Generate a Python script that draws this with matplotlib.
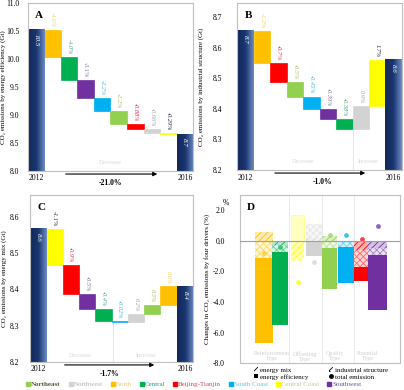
import numpy as np
import matplotlib
matplotlib.use('Agg')
import matplotlib.pyplot as plt
from matplotlib.colors import LinearSegmentedColormap, to_rgb
from matplotlib.lines import Line2D
from matplotlib.patches import Patch

plt.rcParams['font.family'] = ['Liberation Serif', 'DejaVu Serif']
plt.rcParams['hatch.linewidth'] = 0.6

# ---- data ----
regions = ['Northeast', 'Northwest', 'North', 'Central', 'Beijing-Tianjin',
           'South Coast', 'Central Coast', 'Southwest']

# panel A: energy efficiency (Gt)
a_start = 10.52
a_regions = ['North', 'Central', 'Southwest', 'South Coast', 'Northeast',
             'Beijing-Tianjin', 'Northwest', 'Central Coast']
a_delta = [-0.48, -0.415, -0.325, -0.23, -0.23, -0.085, -0.075, -0.025]
a_labels = ['-4.6%', '-4.0%', '-3.1%', '-2.2%', '-2.2%', '-0.88%', '-0.66%', '-0.29%']
a_ends = ['10.5', '8.7']
a_total = '-21.0%'

# panel B: industrial structure (Gt)
b_start = 8.655
b_regions = ['North', 'Beijing-Tianjin', 'Northeast', 'South Coast', 'Southwest',
             'Central', 'Northwest', 'Central Coast']
b_delta = [-0.105, -0.063, -0.047, -0.04, -0.034, -0.032, 0.076, 0.15]
b_labels = ['-1.2%', '-0.7%', '-0.5%', '-0.45%', '-0.39%', '-0.38%', '0.9%', '1.7%']
b_ends = ['8.7', '8.6']
b_total = '-1.0%'

# panel C: energy mix (Gt)
c_start = 8.567
c_regions = ['Central Coast', 'Beijing-Tianjin', 'Southwest', 'Central', 'South Coast',
             'Northwest', 'Northeast', 'North']
c_delta = [-0.099, -0.082, -0.041, -0.033, -0.002, 0.022, 0.025, 0.051]
c_labels = ['-1.1%', '-0.9%', '-0.5%', '-0.4%', '-0.02%', '0.2%', '0.3%', '0.6%']
c_ends = ['8.6', '8.4']
c_total = '-1.7%'

# panel D: four drivers (%)
d_regions = ['North', 'Central', 'Central Coast', 'Northwest', 'Northeast',
             'South Coast', 'Beijing-Tianjin', 'Southwest']
d_mix = [0.6, -0.26, -1.1, 0.2, 0.3, 0.0, -0.6, -0.5]
d_struct = [-1.1, -0.44, -0.2, 0.9, -0.5, -0.4, -1.1, -0.4]
d_eff = [-5.6, -4.8, 1.7, -1.0, -2.65, -2.35, -0.9, -3.6]
d_dot = [-0.8, -0.4, -2.7, -1.4, 0.4, 0.4, 0.1, 1.0]
d_types = ['Reinforcement\nType', 'Offsetting\nType', 'Quality\nType', 'Potential\nType']

# ---- styles ----
reg_color = {'Northeast': '#92D050', 'Northwest': '#D3D3D3', 'North': '#FFC000',
             'Central': '#00B050', 'Beijing-Tianjin': '#FF0000', 'South Coast': '#00B0F0',
             'Central Coast': '#FFFF00', 'Southwest': '#7030A0'}
lab_color = {'Northeast': '#A8C060', 'Northwest': '#A0A0A0', 'North': '#F0D060',
             'Central': '#50A080', 'Beijing-Tianjin': '#E03050', 'South Coast': '#40B8E0',
             'Central Coast': '#202040', 'Southwest': '#8070A0'}
leg_text = {'Northeast': '#4F5A30', 'Northwest': '#B0B0B0', 'North': '#E8C870',
            'Central': '#20A080', 'Beijing-Tianjin': '#E04060', 'South Coast': '#60C0E0',
            'Central Coast': '#C8C890', 'Southwest': '#6050A0'}
navy = LinearSegmentedColormap.from_list('navy', ['#13285A', '#1A3670', '#6C8CC4'])
frame = '#BFBFBF'


def pale(c, f):
    r = np.array(to_rgb(c))
    return tuple(1 - (1 - r) * f)


def navy_bar(ax, x, val, ymin, lab):
    grad = np.linspace(0, 1, 60).reshape(1, -1)
    ax.imshow(grad, extent=[x - 0.5, x + 0.5, ymin, val], cmap=navy,
              aspect='auto', zorder=2, interpolation='bilinear')
    ax.annotate(lab, (x, val), xytext=(0, -3), textcoords='offset points',
                rotation=270, ha='center', va='top', color='white',
                fontsize=5, style='italic', zorder=4)


def waterfall(ax, start, deltas, regs, labels, ends, total, ylim, ticks,
              arrow, total_x, ylab, letter, label_x, tpad):
    levels = start + np.cumsum(deltas)
    prev = np.concatenate([[start], levels[:-1]])
    x = np.arange(1, len(deltas) + 1)
    cols = [reg_color[r] for r in regs]
    ax.bar(x, np.abs(deltas), bottom=np.minimum(prev, levels), width=1.0,
           color=cols, edgecolor=cols, lw=0.5, zorder=2)
    for xi, t, lab, r in zip(x, np.maximum(prev, levels), labels, regs):
        ax.annotate(lab, (xi, t), xytext=(0, 2), textcoords='offset points',
                    rotation=270, ha='center', va='bottom', fontsize=4.5,
                    style='italic', color=lab_color[r])
    navy_bar(ax, 0, start, ylim[0], ends[0])
    navy_bar(ax, len(deltas) + 1, levels[-1], ylim[0], ends[1])
    ax.set_xlim(-0.5, len(deltas) + 1.5)
    ax.set_ylim(*ylim)
    ax.set_yticks(ticks, ['%.1f' % t for t in ticks])
    ax.set_xticks([0, len(deltas) + 1], ['2012', '2016'])
    ax.tick_params(axis='x', length=0, pad=2.5, labelsize=5.5)
    ax.tick_params(axis='y', length=0, labelsize=5.5, pad=tpad)
    for s in ax.spines.values():
        s.set_color(frame)
        s.set_linewidth(0.8)
    tr = ax.get_xaxis_transform()
    ax.annotate('', xy=(arrow[1], -0.018), xytext=(arrow[0], -0.018), xycoords=tr,
                arrowprops=dict(arrowstyle='-|>', color='black', lw=0.8,
                                mutation_scale=6), annotation_clip=False)
    ax.text(total_x, -0.07, total, transform=tr, ha='center', va='center',
            fontsize=5.5, fontweight='bold')
    ax.set_ylabel(ylab, fontsize=5)
    ax.yaxis.set_label_coords(label_x, 0.5)
    ax.text(0.045, 0.95, letter, transform=ax.transAxes, fontsize=8,
            fontweight='bold', ha='left', va='top')


def note(ax, x, y, s):
    ax.text(x, y, s, transform=ax.get_xaxis_transform(), ha='center',
            va='center', fontsize=4.5, color='#D8D8D8')


fig = plt.figure(figsize=(4.04, 3.90), dpi=100)

# A
ax_a = fig.add_axes([0.069, 0.5615, 0.409, 0.431])
waterfall(ax_a, a_start, a_delta, a_regions, a_labels, a_ends, a_total, (8.0, 11.0),
          np.arange(8.0, 11.01, 0.5), (1.62, 7.5), 4.47,
          'CO₂ emissions by energy efficiency (Gt)', 'A', -0.13, 6)
note(ax_a, 4.5, 0.05, 'Decrease')

# B
ax_b = fig.add_axes([0.587, 0.564, 0.408, 0.428])
waterfall(ax_b, b_start, b_delta, b_regions, b_labels, b_ends, b_total, (8.2, 8.745),
          np.arange(8.2, 8.71, 0.1), (1.62, 7.44), 4.65,
          'CO₂ emissions by industrial structure (Gt)', 'B', -0.2, 11)
ax_b.vlines(6.5, 8.2, 8.334, color='#E0E0E0', lw=0.6, zorder=1)
note(ax_b, 3.5, 0.05, 'Decrease')
note(ax_b, 7.45, 0.05, 'Increase')

# C
ax_c = fig.add_axes([0.074, 0.072, 0.404, 0.428])
waterfall(ax_c, c_start, c_delta, c_regions, c_labels, c_ends, c_total, (8.2, 8.66),
          np.arange(8.2, 8.61, 0.1), (1.46, 7.29), 4.4,
          'CO₂ emissions by energy mix (Gt)', 'C', -0.14, 8)
ax_c.vlines(4.6, 8.2, 8.31, color='#E0E0E0', lw=0.6, zorder=1)
note(ax_c, 2.6, 0.04, 'Decrease')
note(ax_c, 6.6, 0.04, 'Increase')

# D
ax_d = fig.add_axes([0.594, 0.069, 0.396, 0.431])
d_pos = [1.5, 2.5, 3.6, 4.6, 5.6, 6.6, 7.6, 8.6]
d_wid = [1.1, 1.0, 0.8, 1.0, 0.9, 1.0, 0.9, 1.2]
for xi, w, r, m, s, e, dt in zip(d_pos, d_wid, d_regions, d_mix, d_struct, d_eff, d_dot):
    c = reg_color[r]
    pos, neg = 0.0, 0.0
    for v, kind in ((m, 'mix'), (s, 'struct'), (e, 'eff')):
        if v == 0:
            continue
        base = pos if v > 0 else neg
        if kind == 'mix':
            ax_d.bar(xi, v, w, bottom=base, facecolor=pale(c, 0.3), edgecolor=c,
                     hatch='/////', lw=0, zorder=2)
        elif kind == 'struct':
            ax_d.bar(xi, v, w, bottom=base, facecolor=pale(c, 0.15), edgecolor=pale(c, 0.6),
                     hatch='xxxxx', lw=0, zorder=2)
        else:
            fc = pale(c, 0.25) if v > 0 else c
            ax_d.bar(xi, v, w, bottom=base, color=fc, lw=0, zorder=2)
            if v > 0:
                ax_d.bar(xi, v, w, bottom=base, fill=False, edgecolor=pale(c, 0.5),
                         lw=0.6, zorder=2)
        if v > 0:
            pos += v
        else:
            neg += v
    ax_d.scatter(xi, dt, s=12, color=pale(c, 0.75), zorder=3, lw=0)

ax_d.axhline(0, color='#A0A0A0', lw=0.8, zorder=3)
for sx in (3.05, 5.1, 7.1):
    ax_d.axvline(sx, color='#E6E6E6', lw=0.6, zorder=1)
for gx, t in zip([2.0, 4.05, 5.95, 8.0], d_types):
    ax_d.text(gx, -7.55, t, ha='center', va='center', fontsize=4.3, color='#D0D0D0',
              linespacing=1.0)
ax_d.set_xlim(0, 10)
ax_d.set_ylim(-8, 3)
ax_d.set_xticks([])
ax_d.set_yticks(np.arange(-8, 2.1, 2), ['%.1f' % t for t in np.arange(-8, 2.1, 2)])
ax_d.tick_params(axis='y', length=0, pad=11, labelsize=5.5)
for s in ax_d.spines.values():
    s.set_color(frame)
    s.set_linewidth(0.8)
ax_d.text(-0.09, 0.955, '%', transform=ax_d.transAxes, fontsize=5.5, ha='center', va='center')
ax_d.set_ylabel('Changes in CO₂ emissions by four drivers (%)', fontsize=5)
ax_d.yaxis.set_label_coords(-0.19, 0.5)
ax_d.text(0.045, 0.95, 'D', transform=ax_d.transAxes, fontsize=8, fontweight='bold',
          ha='left', va='top')
d_handles = [Patch(facecolor='white', edgecolor='black', hatch='////', lw=0),
             Patch(facecolor='black', lw=0),
             Patch(facecolor='white', edgecolor='black', hatch='xxxx', lw=0),
             Line2D([], [], marker='o', ls='', color='black', markersize=2.5)]
ax_d.legend(d_handles, ['energy mix', 'energy efficiency', 'industrial structure',
                        'total emission'],
            loc='upper left', bbox_to_anchor=(0.06, 0.0), ncol=2, frameon=False,
            fontsize=5, handlelength=0.6, handleheight=0.6, labelspacing=0.15,
            columnspacing=3.0, handletextpad=0.3, borderpad=0.1)

# region legend
r_handles = [Line2D([], [], marker='s', ls='', color=reg_color[r], markersize=3)
             for r in regions]
leg = fig.legend(r_handles, regions, loc='center', bbox_to_anchor=(0.48, 0.014), ncol=8,
                 frameon=False, fontsize=5, handlelength=0.5, handletextpad=0.15,
                 columnspacing=1.2, borderpad=0)
for t, r in zip(leg.get_texts(), regions):
    t.set_color(leg_text[r])
leg.get_texts()[0].set_fontweight('bold')

fig.savefig('out.png', dpi=100)
